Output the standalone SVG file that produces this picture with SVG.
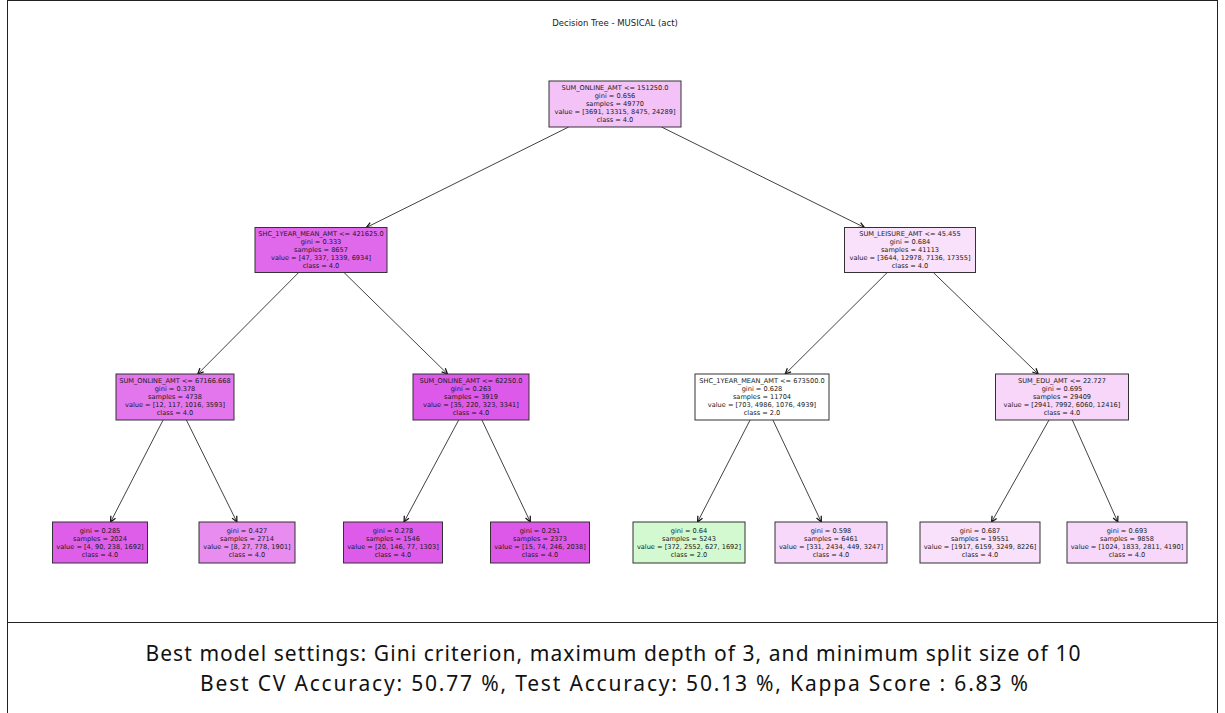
<svg xmlns="http://www.w3.org/2000/svg" width="1225" height="713" viewBox="0 0 1225 713">
<defs>
<marker id="ah" markerUnits="userSpaceOnUse" markerWidth="10" markerHeight="10" viewBox="-6 -4 8 8" refX="0" refY="0" orient="auto">
<path d="M-4.5,-2.1 L0,0 L-4.5,2.1" fill="none" stroke="#111" stroke-width="1"/>
</marker>
</defs>
<style>
.bx{stroke:#333;stroke-width:1}
.t{font-family:"DejaVu Sans",sans-serif;font-size:6.6px;fill:#1a1a1a;text-anchor:middle}
.title{font-family:"DejaVu Sans",sans-serif;font-size:8.5px;fill:#222;text-anchor:middle}
.cap{font-family:"Noto Sans","Liberation Sans",sans-serif;font-size:21px;fill:#111;text-anchor:middle}
.e{stroke:#111;stroke-width:0.8;fill:none;marker-end:url(#ah)}
</style>
<rect x="0" y="0" width="1225" height="713" fill="#fff"/>
<rect x="7.5" y="0.5" width="1210" height="730" fill="none" stroke="#222" stroke-width="1"/>
<line x1="7.5" y1="622.5" x2="1217.5" y2="622.5" stroke="#222" stroke-width="1"/>
<text class="title" x="615" y="25.5">Decision Tree - MUSICAL (act)</text>

<g id="edges">
<line class="e" x1="568.7" y1="127" x2="366.3" y2="227.5"/>
<line class="e" x1="661.5" y1="127" x2="864.5" y2="227.5"/>
<line class="e" x1="298.7" y1="272.5" x2="197.8" y2="374"/>
<line class="e" x1="344" y1="272.5" x2="447.5" y2="374"/>
<line class="e" x1="887.3" y1="272.5" x2="785.2" y2="374"/>
<line class="e" x1="933.3" y1="272.5" x2="1038.2" y2="374"/>
<line class="e" x1="163.1" y1="420" x2="110.6" y2="522"/>
<line class="e" x1="186.4" y1="420" x2="236.9" y2="522"/>
<line class="e" x1="458.7" y1="420" x2="404.0" y2="522"/>
<line class="e" x1="481.9" y1="420" x2="530.3" y2="522"/>
<line class="e" x1="750.1" y1="420" x2="697.6" y2="522"/>
<line class="e" x1="772.9" y1="420" x2="821.3" y2="522"/>
<line class="e" x1="1049.0" y1="420" x2="991.6" y2="522"/>
<line class="e" x1="1072.3" y1="420" x2="1117.8" y2="522"/>
</g>

<g id="root">
<rect class="bx" x="549" y="81" width="132" height="46" fill="#f3c3f7"/>
<text class="t" x="615" y="90.4">SUM_ONLINE_AMT &lt;= 151250.0</text>
<text class="t" x="615" y="98.4">gini = 0.656</text>
<text class="t" x="615" y="106.4">samples = 49770</text>
<text class="t" x="615" y="114.4">value = [3691, 13315, 8475, 24289]</text>
<text class="t" x="615" y="122.4">class = 4.0</text>
</g>

<g id="n1">
<rect class="bx" x="255" y="227.5" width="132" height="45" fill="#e068eb"/>
<text class="t" x="321" y="236.4">SHC_1YEAR_MEAN_AMT &lt;= 421625.0</text>
<text class="t" x="321" y="244.4">gini = 0.333</text>
<text class="t" x="321" y="252.4">samples = 8657</text>
<text class="t" x="321" y="260.4">value = [47, 337, 1339, 6934]</text>
<text class="t" x="321" y="268.4">class = 4.0</text>
</g>

<g id="n2">
<rect class="bx" x="844.5" y="227.5" width="131" height="45" fill="#f9e0fb"/>
<text class="t" x="910" y="236.4">SUM_LEISURE_AMT &lt;= 45.455</text>
<text class="t" x="910" y="244.4">gini = 0.684</text>
<text class="t" x="910" y="252.4">samples = 41113</text>
<text class="t" x="910" y="260.4">value = [3644, 12978, 7136, 17355]</text>
<text class="t" x="910" y="268.4">class = 4.0</text>
</g>

<g id="n3">
<rect class="bx" x="116" y="374" width="118" height="46" fill="#e376ed"/>
<text class="t" x="175" y="383.4">SUM_ONLINE_AMT &lt;= 67166.668</text>
<text class="t" x="175" y="391.4">gini = 0.378</text>
<text class="t" x="175" y="399.4">samples = 4738</text>
<text class="t" x="175" y="407.4">value = [12, 117, 1016, 3593]</text>
<text class="t" x="175" y="415.4">class = 4.0</text>
</g>

<g id="n4">
<rect class="bx" x="413" y="374" width="116" height="46" fill="#dd59e9"/>
<text class="t" x="471" y="383.4">SUM_ONLINE_AMT &lt;= 62250.0</text>
<text class="t" x="471" y="391.4">gini = 0.263</text>
<text class="t" x="471" y="399.4">samples = 3919</text>
<text class="t" x="471" y="407.4">value = [35, 220, 323, 3341]</text>
<text class="t" x="471" y="415.4">class = 4.0</text>
</g>

<g id="n5">
<rect class="bx" x="695" y="374" width="134" height="46" fill="#fefffe"/>
<text class="t" x="762" y="383.4">SHC_1YEAR_MEAN_AMT &lt;= 673500.0</text>
<text class="t" x="762" y="391.4">gini = 0.628</text>
<text class="t" x="762" y="399.4">samples = 11704</text>
<text class="t" x="762" y="407.4">value = [703, 4986, 1076, 4939]</text>
<text class="t" x="762" y="415.4">class = 2.0</text>
</g>

<g id="n6">
<rect class="bx" x="995.5" y="374" width="133" height="46" fill="#f7d6fa"/>
<text class="t" x="1062" y="383.4">SUM_EDU_AMT &lt;= 22.727</text>
<text class="t" x="1062" y="391.4">gini = 0.695</text>
<text class="t" x="1062" y="399.4">samples = 29409</text>
<text class="t" x="1062" y="407.4">value = [2941, 7992, 6060, 12416]</text>
<text class="t" x="1062" y="415.4">class = 4.0</text>
</g>

<g id="leaf1">
<rect class="bx" x="52.5" y="522" width="95" height="41" fill="#de5eea"/>
<text class="t" x="100" y="532.9">gini = 0.285</text>
<text class="t" x="100" y="540.9">samples = 2024</text>
<text class="t" x="100" y="548.9">value = [4, 90, 238, 1692]</text>
<text class="t" x="100" y="556.9">class = 4.0</text>
</g>

<g id="leaf2">
<rect class="bx" x="199" y="522" width="96" height="41" fill="#e88cf0"/>
<text class="t" x="247" y="532.9">gini = 0.427</text>
<text class="t" x="247" y="540.9">samples = 2714</text>
<text class="t" x="247" y="548.9">value = [8, 27, 778, 1901]</text>
<text class="t" x="247" y="556.9">class = 4.0</text>
</g>

<g id="leaf3">
<rect class="bx" x="343.5" y="522" width="99" height="41" fill="#de5bea"/>
<text class="t" x="393" y="532.9">gini = 0.278</text>
<text class="t" x="393" y="540.9">samples = 1546</text>
<text class="t" x="393" y="548.9">value = [20, 146, 77, 1303]</text>
<text class="t" x="393" y="556.9">class = 4.0</text>
</g>

<g id="leaf4">
<rect class="bx" x="490.5" y="522" width="99" height="41" fill="#dd58e9"/>
<text class="t" x="540" y="532.9">gini = 0.251</text>
<text class="t" x="540" y="540.9">samples = 2373</text>
<text class="t" x="540" y="548.9">value = [15, 74, 246, 2038]</text>
<text class="t" x="540" y="556.9">class = 4.0</text>
</g>

<g id="leaf5">
<rect class="bx" x="633" y="522" width="112" height="41" fill="#d2f9cf"/>
<text class="t" x="689" y="532.9">gini = 0.64</text>
<text class="t" x="689" y="540.9">samples = 5243</text>
<text class="t" x="689" y="548.9">value = [372, 2552, 627, 1692]</text>
<text class="t" x="689" y="556.9">class = 2.0</text>
</g>

<g id="leaf6">
<rect class="bx" x="775" y="522" width="112" height="41" fill="#f7d7fa"/>
<text class="t" x="831" y="532.9">gini = 0.598</text>
<text class="t" x="831" y="540.9">samples = 6461</text>
<text class="t" x="831" y="548.9">value = [331, 2434, 449, 3247]</text>
<text class="t" x="831" y="556.9">class = 4.0</text>
</g>

<g id="leaf7">
<rect class="bx" x="920" y="522" width="120" height="41" fill="#f9e0fb"/>
<text class="t" x="980" y="532.9">gini = 0.687</text>
<text class="t" x="980" y="540.9">samples = 19551</text>
<text class="t" x="980" y="548.9">value = [1917, 6159, 3249, 8226]</text>
<text class="t" x="980" y="556.9">class = 4.0</text>
</g>

<g id="leaf8">
<rect class="bx" x="1067" y="522" width="120" height="41" fill="#f7d8fa"/>
<text class="t" x="1127" y="532.9">gini = 0.693</text>
<text class="t" x="1127" y="540.9">samples = 9858</text>
<text class="t" x="1127" y="548.9">value = [1024, 1833, 2811, 4190]</text>
<text class="t" x="1127" y="556.9">class = 4.0</text>
</g>

<g id="caption">
<text class="cap" x="613" y="661" textLength="935" lengthAdjust="spacing">Best model settings: Gini criterion, maximum depth of 3, and minimum split size of 10</text>
<text class="cap" x="614" y="691" textLength="828" lengthAdjust="spacing">Best CV Accuracy: 50.77 %, Test Accuracy: 50.13 %, Kappa Score : 6.83 %</text>
</g>
</svg>
